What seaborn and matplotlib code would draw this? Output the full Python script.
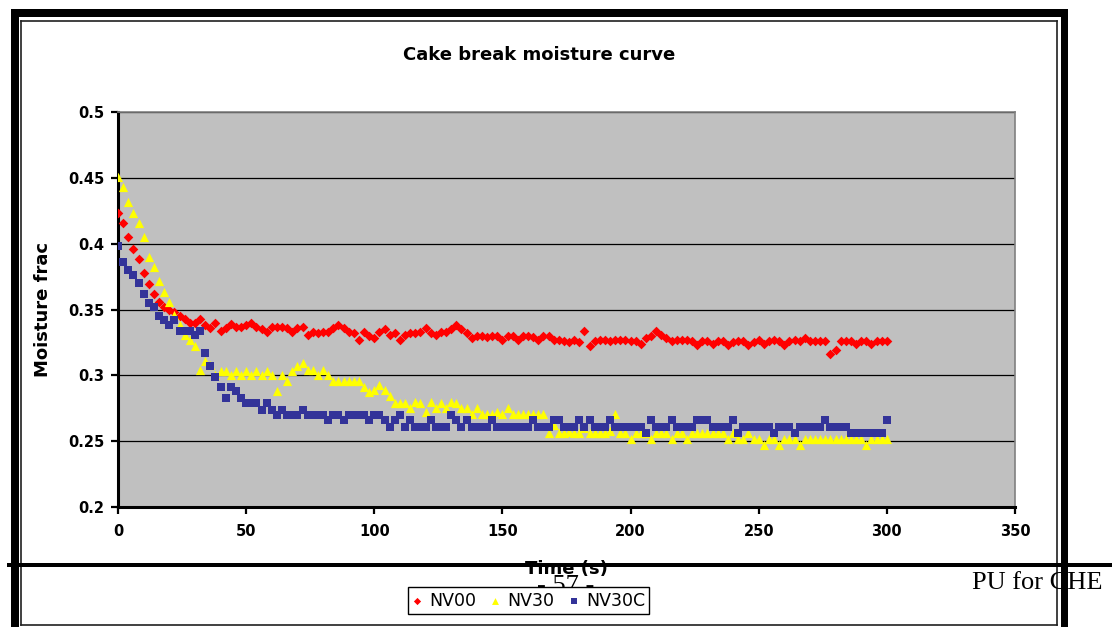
import matplotlib
matplotlib.use("Agg")
import matplotlib.pyplot as plt
from matplotlib.patches import Rectangle
from matplotlib.lines import Line2D
import pandas as pd
import seaborn as sns

# Sampling clock (s)
time_s = list(range(0, 301, 2))

nv00 = [
    0.423, 0.416, 0.405, 0.396, 0.388, 0.378, 0.369, 0.362, 0.356, 0.352,
    0.350, 0.348, 0.345, 0.343, 0.340, 0.340, 0.343, 0.338, 0.336, 0.340,
    0.334, 0.336, 0.339, 0.337, 0.337, 0.338, 0.340, 0.337, 0.335, 0.333,
    0.337, 0.337, 0.337, 0.336, 0.333, 0.336, 0.337, 0.331, 0.333, 0.332,
    0.333, 0.333, 0.336, 0.338, 0.336, 0.333, 0.332, 0.327, 0.333, 0.330,
    0.328, 0.333, 0.335, 0.331, 0.332, 0.327, 0.331, 0.332, 0.332, 0.333,
    0.336, 0.332, 0.331, 0.333, 0.333, 0.335, 0.338, 0.335, 0.332, 0.328,
    0.330, 0.330, 0.329, 0.330, 0.330, 0.327, 0.330, 0.330, 0.327, 0.330,
    0.330, 0.329, 0.327, 0.330, 0.330, 0.327, 0.327, 0.326, 0.325, 0.327,
    0.325, 0.334, 0.322, 0.326, 0.327, 0.327, 0.326, 0.327, 0.327, 0.327,
    0.326, 0.326, 0.324, 0.328, 0.330, 0.334, 0.331, 0.328, 0.326, 0.327,
    0.327, 0.327, 0.326, 0.323, 0.326, 0.326, 0.324, 0.326, 0.326, 0.323,
    0.325, 0.326, 0.326, 0.323, 0.325, 0.327, 0.324, 0.326, 0.327, 0.326,
    0.323, 0.326, 0.327, 0.326, 0.328, 0.326, 0.326, 0.326, 0.326, 0.316,
    0.319, 0.326, 0.326, 0.326, 0.324, 0.326, 0.326, 0.324, 0.326, 0.326,
    0.326,
]

nv30 = [
    0.451, 0.443, 0.432, 0.423, 0.416, 0.405, 0.390, 0.382, 0.372, 0.363,
    0.356, 0.346, 0.338, 0.331, 0.327, 0.322, 0.304, 0.311, 0.308, 0.300,
    0.303, 0.303, 0.300, 0.303, 0.300, 0.303, 0.300, 0.303, 0.300, 0.303,
    0.300, 0.288, 0.300, 0.296, 0.303, 0.307, 0.309, 0.304, 0.304, 0.300,
    0.304, 0.300, 0.296, 0.296, 0.296, 0.296, 0.296, 0.296, 0.291, 0.287,
    0.289, 0.293, 0.289, 0.284, 0.279, 0.279, 0.279, 0.275, 0.280, 0.279,
    0.272, 0.280, 0.275, 0.279, 0.275, 0.280, 0.279, 0.275, 0.275, 0.271,
    0.275, 0.271, 0.271, 0.271, 0.272, 0.271, 0.275, 0.271, 0.271, 0.271,
    0.271, 0.271, 0.271, 0.271, 0.256, 0.262, 0.256, 0.256, 0.257, 0.256,
    0.256, 0.260, 0.256, 0.256, 0.256, 0.256, 0.258, 0.271, 0.256, 0.256,
    0.252, 0.256, 0.256, 0.256, 0.252, 0.256, 0.256, 0.256, 0.252, 0.256,
    0.256, 0.252, 0.256, 0.256, 0.256, 0.256, 0.256, 0.256, 0.256, 0.252,
    0.256, 0.252, 0.252, 0.256, 0.252, 0.252, 0.247, 0.252, 0.252, 0.247,
    0.252, 0.252, 0.252, 0.247, 0.252, 0.252, 0.252, 0.252, 0.252, 0.252,
    0.252, 0.252, 0.252, 0.252, 0.252, 0.252, 0.247, 0.252, 0.252, 0.252,
    0.252,
]

nv30c = [
    0.398, 0.386, 0.380, 0.376, 0.370, 0.362, 0.355, 0.352, 0.345, 0.342,
    0.338, 0.342, 0.334, 0.334, 0.334, 0.331, 0.334, 0.317, 0.307, 0.299,
    0.291, 0.283, 0.291, 0.288, 0.283, 0.279, 0.279, 0.279, 0.274, 0.279,
    0.274, 0.270, 0.274, 0.270, 0.270, 0.270, 0.274, 0.270, 0.270, 0.270,
    0.270, 0.266, 0.270, 0.270, 0.266, 0.270, 0.270, 0.270, 0.270, 0.266,
    0.270, 0.270, 0.266, 0.261, 0.266, 0.270, 0.261, 0.266, 0.261, 0.261,
    0.261, 0.266, 0.261, 0.261, 0.261, 0.270, 0.266, 0.261, 0.266, 0.261,
    0.261, 0.261, 0.261, 0.266, 0.261, 0.261, 0.261, 0.261, 0.261, 0.261,
    0.261, 0.266, 0.261, 0.261, 0.261, 0.266, 0.266, 0.261, 0.261, 0.261,
    0.266, 0.261, 0.266, 0.261, 0.261, 0.261, 0.266, 0.261, 0.261, 0.261,
    0.261, 0.261, 0.261, 0.256, 0.266, 0.261, 0.261, 0.261, 0.266, 0.261,
    0.261, 0.261, 0.261, 0.266, 0.266, 0.266, 0.261, 0.261, 0.261, 0.261,
    0.266, 0.256, 0.261, 0.261, 0.261, 0.261, 0.261, 0.261, 0.256, 0.261,
    0.261, 0.261, 0.256, 0.261, 0.261, 0.261, 0.261, 0.261, 0.266, 0.261,
    0.261, 0.261, 0.261, 0.256, 0.256, 0.256, 0.256, 0.256, 0.256, 0.256,
    0.266,
]

series_names = ["NV00", "NV30", "NV30C"]
x_ticks = [0, 50, 100, 150, 200, 250, 300, 350]
y_ticks = [0.2, 0.25, 0.3, 0.35, 0.4, 0.45, 0.5]
y_tick_labels = ["0.2", "0.25", "0.3", "0.35", "0.4", "0.45", "0.5"]

df = pd.DataFrame({
    "Time (s)": time_s * 3,
    "Moisture frac": nv00 + nv30 + nv30c,
    "Series": [n for n in series_names for _ in time_s],
})

W, H = 1112, 627
fig = plt.figure(figsize=(W / 100, H / 100), dpi=100)
fig.patch.set_facecolor("white")


def fx(px):
    return px / W


def fy(py):
    return 1 - py / H


def bar(x0, y0, x1, y1, color="black", z=1):
    fig.add_artist(Rectangle((fx(x0), fy(y1)), fx(x1) - fx(x0), fy(y0) - fy(y1),
                             transform=fig.transFigure, facecolor=color,
                             edgecolor="none", zorder=z))


def rule(x0, y0, x1, y1, color="#202020", lw=1.2, z=1):
    fig.add_artist(Line2D([fx(x0), fx(x1)], [fy(y0), fy(y1)],
                          transform=fig.transFigure, color=color, lw=lw, zorder=z))


# chart frame: heavy outer border and thin inner border
bar(11, 9, 19, 627)
bar(11, 9, 1068, 17)
bar(1061, 9, 1068, 627)
rule(21, 21, 1057, 21)
rule(21, 21, 21, 625)
rule(1057, 21, 1057, 625)
rule(21, 625, 1057, 625)
# page footer rule
bar(7, 563, 1112, 567, z=2)

ax = fig.add_axes([fx(118), fy(507), (1015 - 118) / W, (507 - 112) / H])
ax.set_facecolor("#C0C0C0")

styles = {
    "NV00": dict(marker="D", color="#FF0000", s=24),
    "NV30": dict(marker="^", color="#FFFF00", s=44),
    "NV30C": dict(marker="s", color="#333399", s=36),
}
for name in series_names:
    st = styles[name]
    sns.scatterplot(data=df[df["Series"] == name], x="Time (s)", y="Moisture frac",
                    marker=st["marker"], color=st["color"], s=st["s"],
                    linewidth=0, ax=ax, label=name, zorder=3)

handles, labels = ax.get_legend_handles_labels()
if ax.get_legend() is not None:
    ax.get_legend().remove()

ax.set_xlim(0, 350)
ax.set_ylim(0.2, 0.5)
ax.set_xticks(x_ticks)
ax.set_xticklabels([str(t) for t in x_ticks], fontweight="bold", fontsize=10.5)
ax.set_yticks(y_ticks)
ax.set_yticklabels(y_tick_labels, fontweight="bold", fontsize=10.5)
ax.yaxis.grid(True, color="black", lw=0.9)
ax.xaxis.grid(False)
ax.set_axisbelow(True)

for side in ("left", "bottom"):
    ax.spines[side].set_color("black")
    ax.spines[side].set_linewidth(2.2)
for side in ("top", "right"):
    ax.spines[side].set_color("#808080")
    ax.spines[side].set_linewidth(1.2)

ax.tick_params(axis="both", direction="out", length=5, width=1.6, color="black")
ax.tick_params(axis="x", pad=7)
ax.tick_params(axis="y", pad=5)

ax.set_xlabel("Time (s)", fontsize=13, fontweight="bold")
ax.xaxis.label.set_va("center")
ax.xaxis.set_label_coords(0.5, -0.157)
ax.xaxis.label.set_zorder(4)
ax.set_ylabel("Moisture frac", fontsize=13, fontweight="bold")
ax.yaxis.label.set_va("center")
ax.yaxis.set_label_coords((43 - 118) / 897, 0.5)

fig.text(fx(539.5), fy(55), "Cake break moisture curve", fontsize=13,
         fontweight="bold", ha="center", va="center")

# page footer text
fig.text(fx(566), fy(592), "- 57 -", family="Liberation Serif", fontsize=19,
         ha="center", va="baseline", zorder=3)
fig.text(fx(972), fy(583), "PU for CHE", family="Liberation Serif", fontsize=19,
         ha="left", va="center", zorder=3)

leg = fig.legend(handles, labels, loc="center", bbox_to_anchor=(fx(528.5), fy(600.5)),
                 ncol=3, frameon=True, fancybox=False, edgecolor="black",
                 framealpha=1, fontsize=12.5, handlelength=0.6, handletextpad=0.4,
                 columnspacing=0.8, borderpad=0.25, markerscale=0.75)
leg.get_frame().set_linewidth(1.0)
leg.set_zorder(6)

fig.savefig("out.png", dpi=100)
